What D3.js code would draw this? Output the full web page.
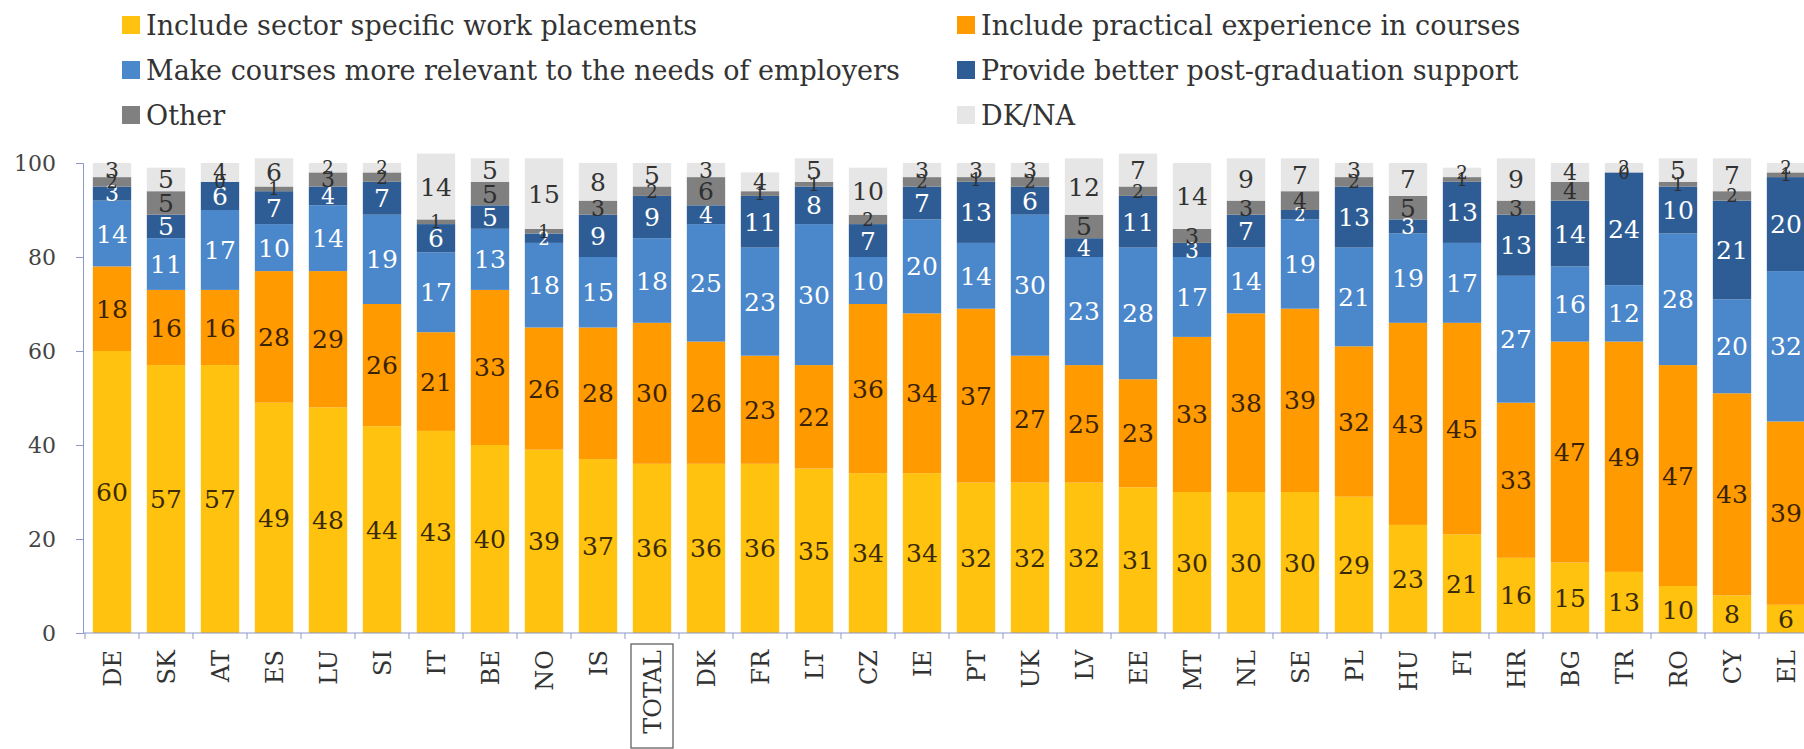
<!DOCTYPE html>
<html>
<head>
<meta charset="utf-8">
<script src="https://cdn.jsdelivr.net/npm/d3@7"></script>
<style>
  html, body { margin: 0; padding: 0; background: #ffffff; }
  svg { display: block; }
</style>
</head>
<body>
<svg id="chart" width="1804" height="749"></svg>
<script>
// Countries, ordered as in the survey ranking
const categories = ["DE","SK","AT","ES","LU","SI","IT","BE","NO","IS","TOTAL","DK","FR","LT","CZ","IE",
  "PT","UK","LV","EE","MT","NL","SE","PL","HU","FI","HR","BG","TR","RO","CY","EL"];

// Series values (%)
const workPlacements = [60,57,57,49,48,44,43,40,39,37,36,36,36,35,34,34,32,32,32,31,30,30,30,29,23,21,16,15,13,10,8,6];
const practicalExperience = [18,16,16,28,29,26,21,33,26,28,30,26,23,22,36,34,37,27,25,23,33,38,39,32,43,45,33,47,49,47,43,39];
const moreRelevant = [14,11,17,10,14,19,17,13,18,15,18,25,23,30,10,20,14,30,23,28,17,14,19,21,19,17,27,16,12,28,20,32];
const postGraduation = [3,5,6,7,4,7,6,5,2,9,9,4,11,8,7,7,13,6,4,11,3,7,2,13,3,13,13,14,24,10,21,20];
const otherAnswers = [2,5,0,1,3,2,1,5,1,3,2,6,1,1,2,2,1,2,5,2,3,3,4,2,5,1,3,4,0,1,2,1];
const dkNa = [3,5,4,6,2,2,14,5,15,8,5,3,4,5,10,3,3,3,12,7,14,9,7,3,7,2,9,4,2,5,7,2];

const seriesNames = [
  "Include sector specific work placements",
  "Include practical experience in courses",
  "Make courses more relevant to the needs of employers",
  "Provide better post-graduation support",
  "Other",
  "DK/NA"
];
const yTicks = [0, 20, 40, 60, 80, 100];

const seriesValues = [workPlacements, practicalExperience, moreRelevant, postGraduation, otherAnswers, dkNa];
const colors = ["#FFC20E", "#FF9A00", "#4A87CB", "#2E5D95", "#808080", "#E6E6E6"];
const labelColors = ["#3a2a06", "#3a2206", "#ffffff", "#ffffff", "#2f2f2f", "#333333"];

const keys = seriesNames.map((d, i) => "s" + i);
const rows = categories.map((c, i) => {
  const r = { cat: c };
  keys.forEach((k, j) => r[k] = seriesValues[j][i]);
  return r;
});

const svg = d3.select("#chart");
const serif = "'DejaVu Serif', serif";
const axisColor = "#8a97c8";

const x = d3.scaleBand()
  .domain(categories)
  .range([85, 85 + categories.length * 54])
  .paddingInner(0.29)
  .paddingOuter(0.145);

const y = d3.scaleLinear().domain([0, 100]).range([633, 163]);

const stacked = d3.stack().keys(keys)(rows);

// Bars
const layers = svg.append("g").selectAll("g")
  .data(stacked).join("g")
  .attr("fill", (d, i) => colors[i]);

layers.selectAll("rect")
  .data(d => d).join("rect")
  .attr("x", d => x(d.data.cat))
  .attr("width", x.bandwidth())
  .attr("y", d => y(d[1]))
  .attr("height", d => Math.max(0, y(d[0]) - y(d[1])));

// Value labels centred in each segment; thin segments get a smaller label
const labelLayers = svg.append("g").selectAll("g")
  .data(stacked).join("g")
  .attr("fill", (d, i) => labelColors[i]);

labelLayers.selectAll("text")
  .data(d => d).join("text")
  .attr("x", d => x(d.data.cat) + x.bandwidth() / 2)
  .attr("y", d => y((d[0] + d[1]) / 2))
  .attr("dy", "0.36em")
  .attr("text-anchor", "middle")
  .style("font-family", serif)
  .style("font-size", d => (d[1] - d[0]) <= 2 ? "18px" : (d[1] - d[0]) <= 4 ? "22px" : "25px")
  .text(d => d[1] - d[0]);

// Y axis
const yAxis = svg.append("g")
  .attr("transform", "translate(83,0)")
  .call(d3.axisLeft(y).tickValues(yTicks).tickSize(7).tickPadding(20));
yAxis.select(".domain").attr("stroke", axisColor);
yAxis.selectAll(".tick line").attr("stroke", axisColor);
yAxis.selectAll(".tick text")
  .style("font-family", serif)
  .style("font-size", "22px")
  .attr("fill", "#444");

// X axis line with ticks at band boundaries
const xAxis = svg.append("g").attr("transform", "translate(0,633)");
xAxis.append("line")
  .attr("x1", 83).attr("x2", 1804)
  .attr("stroke", axisColor);
xAxis.selectAll("line.tick")
  .data(categories).join("line")
  .attr("class", "tick")
  .attr("x1", d => x(d) - x.step() * x.paddingInner() / 2)
  .attr("x2", d => x(d) - x.step() * x.paddingInner() / 2)
  .attr("y1", 0).attr("y2", 6)
  .attr("stroke", axisColor);

// Category labels, rotated
const xLabels = svg.append("g").selectAll("text")
  .data(categories).join("text")
  .attr("transform", d => `translate(${x(d) + x.bandwidth() / 2},650) rotate(-90)`)
  .attr("dy", "0.36em")
  .attr("text-anchor", "end")
  .style("font-family", serif)
  .style("font-size", "24px")
  .attr("fill", "#333")
  .text(d => d);

// Box around the EU total label
const cxTotal = x("TOTAL") + x.bandwidth() / 2;
svg.append("rect")
  .attr("x", cxTotal - 21)
  .attr("y", 644)
  .attr("width", 42)
  .attr("height", 104)
  .attr("fill", "none")
  .attr("stroke", "#555")
  .attr("stroke-width", 1.2);

// Legend: two columns, three rows
const legend = svg.append("g");
const legendPos = [
  [122, 25], [957, 25],
  [122, 70], [957, 70],
  [122, 115], [957, 115]
];
seriesNames.forEach((name, i) => {
  const [lx, ly] = legendPos[i];
  legend.append("rect")
    .attr("x", lx).attr("y", ly - 9)
    .attr("width", 18).attr("height", 18)
    .attr("fill", colors[i]);
  legend.append("text")
    .attr("x", lx + 24).attr("y", ly)
    .attr("dy", "0.36em")
    .style("font-family", serif)
    .style("font-size", "27px")
    .attr("fill", "#333")
    .text(name);
});
</script>
</body>
</html>
